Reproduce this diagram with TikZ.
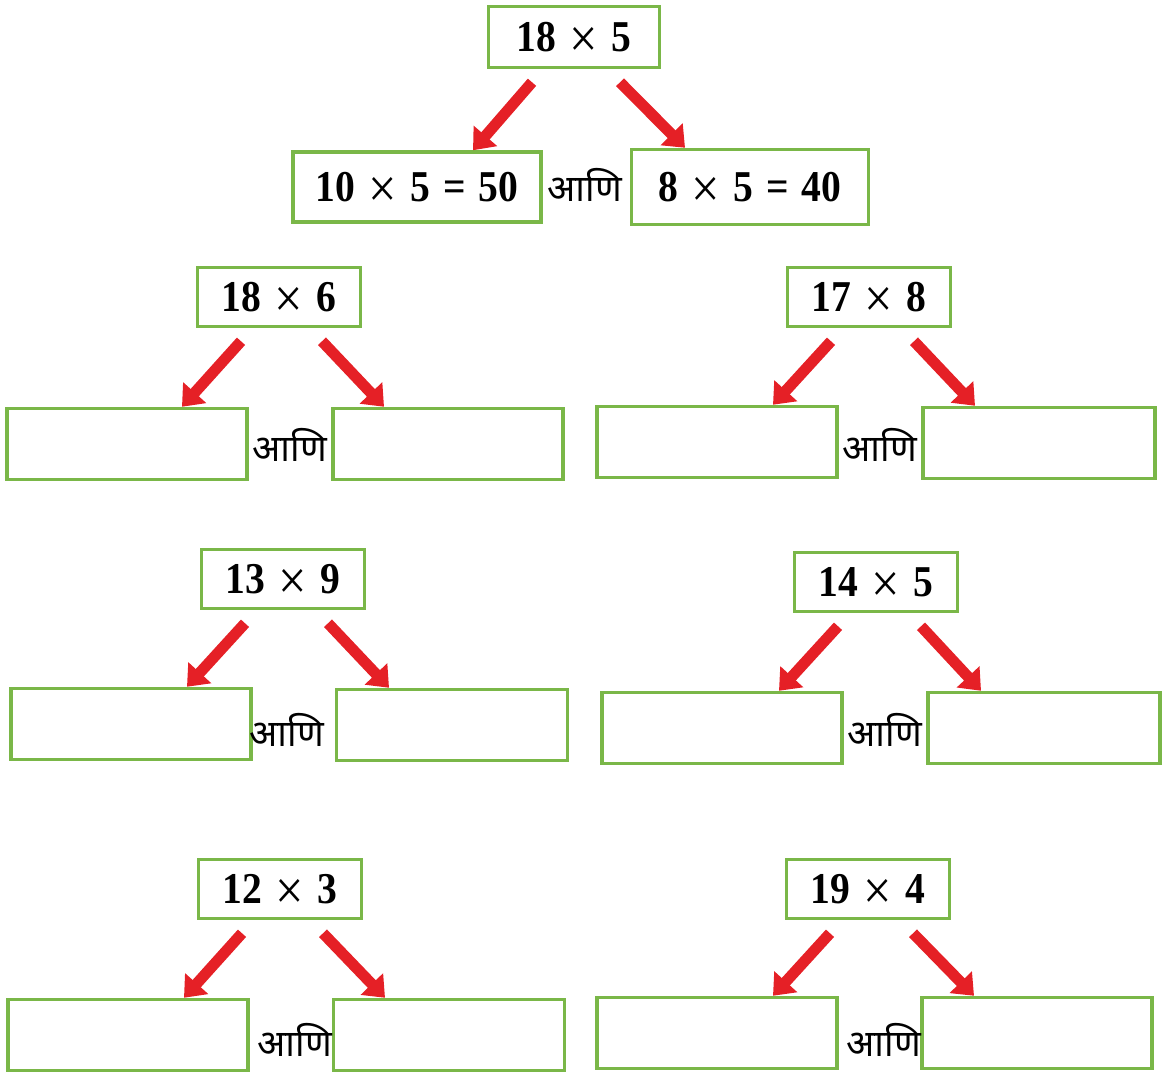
\documentclass[tikz,border=0pt]{standalone}
\usepackage{fontspec}
\setmainfont{Liberation Serif}[FakeStretch=0.9]
\newfontfamily\devafont[Script=Devanagari]{Noto Sans}
\usetikzlibrary{arrows.meta}
\definecolor{boxgreen}{RGB}{122,183,72}
\definecolor{arrowred}{RGB}{229,32,38}
\newcommand{\tsep}{\hspace{0.3em}}
\newcommand{\tms}{{\mdseries\fontsize{56}{56}\selectfont\raisebox{-6pt}[0pt][0pt]{×}}}

\begin{document}
\begin{tikzpicture}[x=1pt, y=-1pt,
  every node/.style={font=\fontsize{44}{48}\selectfont\bfseries},
  topbox/.style={draw=boxgreen, line width=3.5pt, fill=white, minimum width=163pt, minimum height=59pt, inner sep=0pt},
  ansbox/.style={draw=boxgreen, line width=3.5pt, fill=white, minimum width=240pt, minimum height=71pt, inner sep=0pt},
  andword/.style={font=\devafont\bfseries\fontsize{37}{40}\selectfont, inner sep=0pt},
  splitarrow/.style={draw=arrowred, line width=11pt, -{Triangle[length=19pt,width=30pt]}}]
  \useasboundingbox (0,0) rectangle (1169,1074);

  \node[topbox, minimum width=171pt, minimum height=61pt] (a) at (574,37) {18\tsep\tms\tsep5};
  \node[ansbox, minimum width=248pt, minimum height=70pt] (al) at (417,187) {10\tsep\tms\tsep5\tsep=\tsep50};
  \node[ansbox, minimum width=237pt, minimum height=75pt] (ar) at (750,187) {8\tsep\tms\tsep5\tsep=\tsep40};
  \node[andword] (aand) at (585,185) {आणि};
  \draw[splitarrow] ([xshift=-42pt,yshift=-13pt]a.south) -- ([xshift=56pt]al.north);
  \draw[splitarrow] ([xshift=46pt,yshift=-13pt]a.south) -- ([xshift=-65pt]ar.north);

  \node[topbox] (b) at (279,297) {18\tsep\tms\tsep6};
  \node[ansbox] (bl) at (127,444) {};
  \node[ansbox, minimum width=230pt] (br) at (448,444) {};
  \node[andword] (band) at (290,445) {आणि};
  \draw[splitarrow] ([xshift=-38pt,yshift=-13pt]b.south) -- ([xshift=55pt]bl.north);
  \draw[splitarrow] ([xshift=43pt,yshift=-13pt]b.south) -- ([xshift=-64pt]br.north);

  \node[topbox] (c) at (869,297) {17\tsep\tms\tsep8};
  \node[ansbox] (cl) at (717,442) {};
  \node[ansbox, minimum width=232pt] (cr) at (1039,443) {};
  \node[andword] (cand) at (880,445) {आणि};
  \draw[splitarrow] ([xshift=-38pt,yshift=-13pt]c.south) -- ([xshift=56pt]cl.north);
  \draw[splitarrow] ([xshift=45pt,yshift=-13pt]c.south) -- ([xshift=-64pt]cr.north);

  \node[topbox] (d) at (283,579) {13\tsep\tms\tsep9};
  \node[ansbox] (dl) at (131,724) {};
  \node[ansbox, minimum width=231pt] (dr) at (452,725) {};
  \node[andword] (dand) at (287,730) {आणि};
  \draw[splitarrow] ([xshift=-38pt,yshift=-13pt]d.south) -- ([xshift=56pt]dl.north);
  \draw[splitarrow] ([xshift=45pt,yshift=-13pt]d.south) -- ([xshift=-63pt]dr.north);

  \node[topbox] (e) at (876,582) {14\tsep\tms\tsep5};
  \node[ansbox] (el) at (722,728) {};
  \node[ansbox, minimum width=232pt] (er) at (1044,728) {};
  \node[andword] (eand) at (885,730) {आणि};
  \draw[splitarrow] ([xshift=-38pt,yshift=-13pt]e.south) -- ([xshift=57pt]el.north);
  \draw[splitarrow] ([xshift=45pt,yshift=-13pt]e.south) -- ([xshift=-63pt]er.north);

  \node[topbox] (f) at (280,889) {12\tsep\tms\tsep3};
  \node[ansbox] (fl) at (128,1035) {};
  \node[ansbox, minimum width=231pt] (fr) at (449,1035) {};
  \node[andword] (fand) at (295,1040) {आणि};
  \draw[splitarrow] ([xshift=-38pt,yshift=-13pt]f.south) -- ([xshift=56pt]fl.north);
  \draw[splitarrow] ([xshift=43pt,yshift=-13pt]f.south) -- ([xshift=-64pt]fr.north);

  \node[topbox] (g) at (868,889) {19\tsep\tms\tsep4};
  \node[ansbox] (gl) at (717,1033) {};
  \node[ansbox, minimum width=230pt] (gr) at (1037,1033) {};
  \node[andword] (gand) at (884,1040) {आणि};
  \draw[splitarrow] ([xshift=-38pt,yshift=-13pt]g.south) -- ([xshift=56pt]gl.north);
  \draw[splitarrow] ([xshift=45pt,yshift=-13pt]g.south) -- ([xshift=-63pt]gr.north);
\end{tikzpicture}
\end{document}
